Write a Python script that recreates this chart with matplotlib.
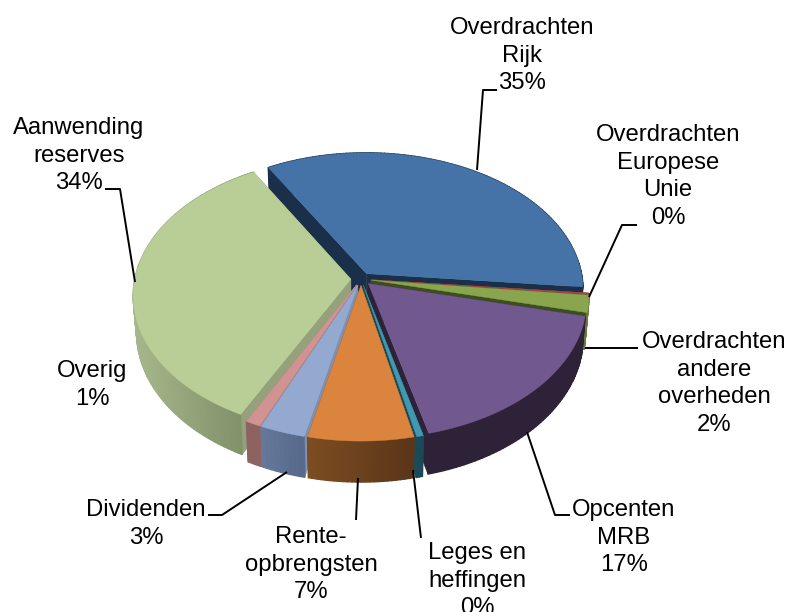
import numpy as np
from matplotlib import pyplot as plt
from matplotlib.colors import to_rgb
from matplotlib.patches import Polygon

plt.rcParams['font.family'] = ['Liberation Sans', 'DejaVu Sans']

labels = ['Overdrachten\nRijk\n35%', 'Overdrachten\nEuropese\nUnie\n0%', 'Overdrachten\nandere\noverheden\n2%',
          'Opcenten\nMRB\n17%', 'Leges en\nheffingen\n0%', 'Rente-\nopbrengsten\n7%',
          'Dividenden\n3%', 'Overig\n1%', 'Aanwending\nreserves\n34%']
values = [35.0, 0.2, 2.0, 17.4, 0.45, 7.0, 3.0, 1.0, 34.3]

colors = ['#4572A7', '#AA4643', '#89A54E', '#71588F', '#4198AF', '#DB843D', '#93A9CF', '#D19392', '#B9CD96']
wall_left = ['#1A2F4A', '#6B2C2A', '#66793A', '#2D2238', '#1A4A57', '#7C4D22', '#66789A', '#8D6362', '#A6B88B']
wall_right = ['#1A2F4A', '#6B2C2A', '#66793A', '#2D2238', '#1A4A57', '#5A3519', '#56688A', '#8D6362', '#7C8C66']
side_cols = ['#1A2F4A', '#6B2C2A', '#3E4D1F', '#2D2238', '#1A4A57', '#7C4D22', '#7F90B0', '#A07C7B', '#93A27A']

# text anchor (centre x, first line y) and leader lines, in pixels
text_pos = [(522, 17), (668, 124), (714, 331), (624, 499), (477, 542), (311, 526), (146, 499), (92, 360), (79, 117)]
leaders = [[(497, 90), (483, 90), (477, 170)], [(637, 225), (622, 225), (589, 297)], [(638, 348), (585, 348)],
           [(570, 515), (555, 515), (527, 432)], [(421, 538), (413, 470)], [(356, 520), (358, 478)],
           [(208, 515), (222, 515), (287, 472)], [], [(105, 189), (120, 189), (135, 282)]]

cx, cy = 361, 279  # pie centre
R, A = 216, 136  # x radius, y radius
k = 0.116  # perspective
depth = 36
shrink = 0.985  # lower ring is a little narrower
expl = 0.047
start = 120


def proj(u, v, h=0.0):
    s = 1 / (1 + k * v)
    w = shrink if h else 1.0
    return np.column_stack([cx + R * u * s * w, cy - A * v * s + h * s])


def mix(a, b, t):
    return tuple((1 - t) * x + t * y for x, y in zip(to_rgb(a), to_rgb(b)))


fig = plt.figure(figsize=(7.91, 6.12), dpi=100)
ax = fig.add_axes([0, 0, 1, 1])
ax.set_xlim(0, 791)
ax.set_ylim(612, 0)
ax.axis('off')

frac = np.array(values) / sum(values) * 360
ends = start - np.cumsum(frac)
starts = ends + frac
mids = (starts + ends) / 2

order = sorted(range(len(values)), key=lambda i: -np.sin(np.radians(mids[i])))
for i in order:
    ox, oy = expl * np.cos(np.radians(mids[i])), expl * np.sin(np.radians(mids[i]))
    t = np.radians(np.linspace(ends[i], starts[i], max(int(frac[i]), 3)))
    u, v = ox + np.cos(t), oy + np.sin(t)
    top = proj(u, v)
    low = proj(u, v, depth)
    apex = proj(np.array([ox]), np.array([oy]))
    apex_low = proj(np.array([ox]), np.array([oy]), depth)
    # radial walls
    for rim, rim_low in [(top[0], low[0]), (top[-1], low[-1])]:
        ax.add_patch(Polygon([apex[0], rim, rim_low, apex_low[0]], fc=side_cols[i], ec=side_cols[i], lw=0.3))
    # outer wall, shaded left to right
    for j in range(len(t) - 1):
        pos = (top[j, 0] - top[:, 0].min()) / max(np.ptp(top[:, 0]), 1)
        c = mix(wall_left[i], wall_right[i], pos)
        ax.add_patch(Polygon([top[j], top[j + 1], low[j + 1], low[j]], fc=c, ec=c, lw=1.0))
    ax.add_patch(Polygon(np.vstack([apex, top]), fc=colors[i], ec=colors[i], lw=0.3))

for line in leaders:
    if line:
        xs, ys = zip(*line)
        ax.plot(xs, ys, color='black', lw=1.4, solid_capstyle='butt', clip_on=False)

for lab, (x, y) in zip(labels, text_pos):
    ax.text(x, y, lab, ha='center', va='top', fontsize=17.2, color='black', linespacing=1.33)

fig.savefig('out.png', dpi=100)
